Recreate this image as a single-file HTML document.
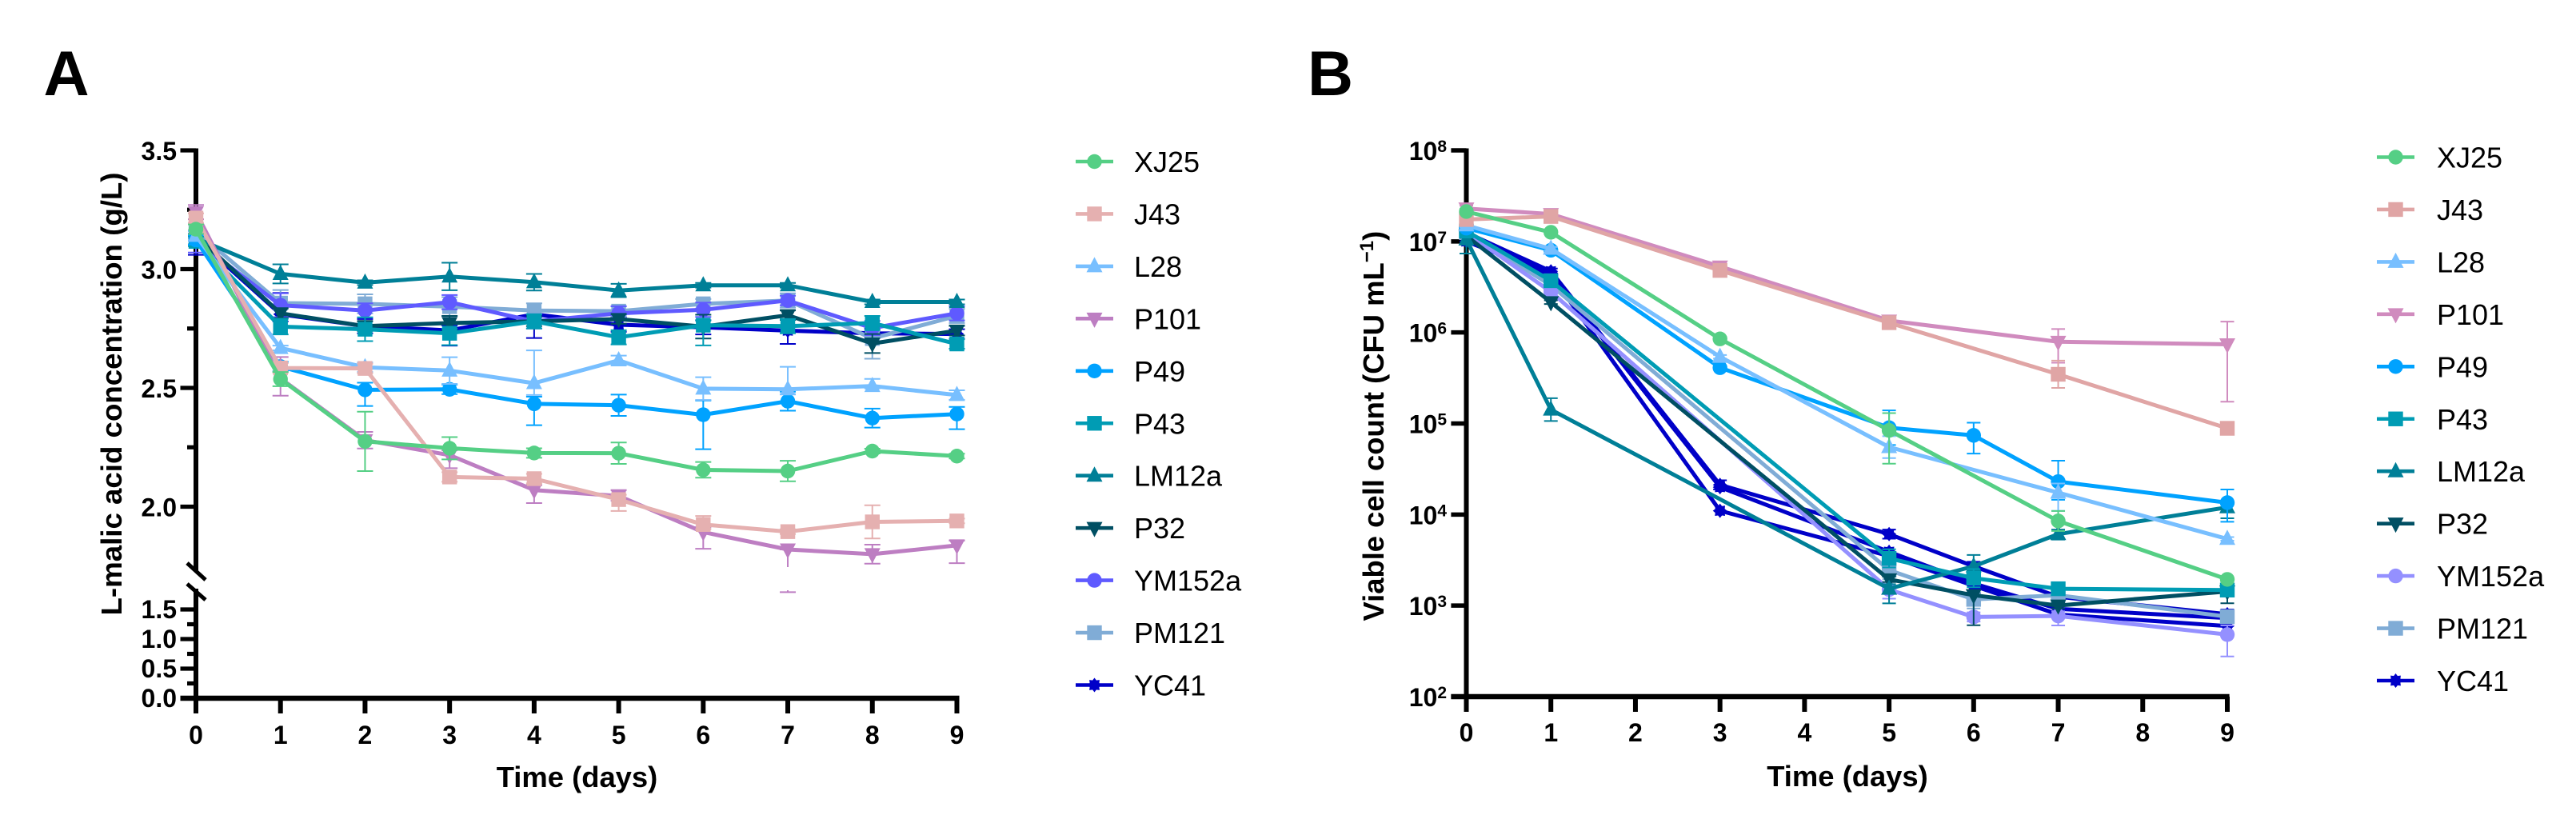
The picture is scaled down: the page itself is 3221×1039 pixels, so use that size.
<!DOCTYPE html>
<html lang="en">
<head>
<meta charset="utf-8">
<title>L-malic acid concentration and viable cell count</title>
<style>
html,body{margin:0;padding:0;background:#fff;width:3221px;height:1039px;overflow:hidden}
svg{display:block;font-family:"Liberation Sans",Arial,sans-serif}
.t{font-size:32px;font-weight:700;fill:#000}
.ttl{font-size:36.4px;font-weight:700;fill:#000}
.leg{font-size:36px;fill:#000}
.pl{font-size:79px;font-weight:700;fill:#000}
</style>
</head>
<body>
<svg id="figure" xmlns="http://www.w3.org/2000/svg" width="3221" height="1039" viewBox="0 0 3221 1039">
  <rect width="3221" height="1039" fill="#fff"/>
  <text class="pl" x="54.5" y="119">A</text>
  <text class="pl" x="1635" y="119">B</text>
  <text class="ttl" transform="translate(152,769.5) rotate(-90)" x="0" y="0" textLength="554" lengthAdjust="spacingAndGlyphs">L-malic acid concentration (g/L)</text>
  <text class="ttl" x="721.5" y="984" text-anchor="middle">Time (days)</text>
  <text class="ttl" transform="translate(1730,776.5) rotate(-90)" x="0" y="0">Viable cell count (CFU mL<tspan font-size="24" dy="-13">−1</tspan><tspan dy="13">)</tspan></text>
  <text class="ttl" x="2310" y="983" text-anchor="middle">Time (days)</text>
  <g id="plotA"></g>
  <g id="plotB"></g>
</svg>
<script>
// ---- categories ----
const seriesNames = ['XJ25','J43','L28','P101','P49','P43','LM12a','P32','YM152a','PM121','YC41'];
const daysA = [0,1,2,3,4,5,6,7,8,9];
const daysB = [0,1,3,5,6,7,9];
const xTicks = [0,1,2,3,4,5,6,7,8,9];

// ---- tick labels ----
const yMajorUpperA = [3.5,3.0,2.5,2.0];
const yMinorUpperA = [3.25,2.75,2.25];
const yMajorLowerA = [1.5,1.0,0.5,0.0];
const yMinorLowerA = [1.25,0.75,0.25];
const yExponentsB = [8,7,6,5,4,3,2];

// ---- Panel A values (g/L) ----
const xj25A   = [3.168,2.537,2.275,2.246,2.226,2.225,2.155,2.15,2.234,2.213];
const j43A    = [3.215,2.584,2.582,2.125,2.118,2.03,1.925,1.895,1.936,1.94];
const l28A    = [3.14,2.668,2.587,2.573,2.52,2.616,2.497,2.494,2.508,2.47];
const p101A   = [3.24,2.54,2.28,2.217,2.07,2.045,1.893,1.82,1.80,1.837];
const p49A    = [3.123,2.59,2.492,2.494,2.433,2.427,2.387,2.444,2.373,2.39];
const p43A    = [3.117,2.758,2.747,2.73,2.78,2.713,2.764,2.76,2.773,2.685];
const lm12aA  = [3.13,2.98,2.943,2.969,2.945,2.91,2.932,2.932,2.862,2.862];
const p32A    = [3.14,2.814,2.76,2.773,2.78,2.79,2.758,2.806,2.687,2.741];
const ym152aA = [3.12,2.848,2.826,2.861,2.78,2.814,2.829,2.868,2.752,2.814];
const pm121A  = [3.16,2.857,2.854,2.842,2.826,2.823,2.854,2.868,2.708,2.803];
const yc41A   = [3.13,2.81,2.76,2.742,2.81,2.766,2.755,2.741,2.73,2.727];

// ---- Panel A error bars (g/L above / below the mean) ----
const xj25AUp     = [.02,.03,.125,.047,.02,.045,.033,.043,.01,.01];
const xj25ADown   = [.02,.03,.125,.047,.02,.045,.033,.043,.01,.01];
const j43AUp      = [.02,.02,.02,.02,.02,.02,.036,.01,.07,.01];
const j43ADown    = [.02,.02,.02,.02,.02,.048,.02,.01,.07,.01];
const l28AUp      = [.02,.01,.02,.056,.138,.02,.048,.095,.03,.02];
const l28ADown    = [.02,.01,.02,.056,.05,.02,.048,.02,.01,.02];
const p101AUp     = [.03,.09,.035,.02,.02,.025,.02,0,.04,.02];
const p101ADown   = [.03,.073,.035,.055,.055,.02,.07,.18,.04,.075];
const p49AUp      = [.02,.02,.03,.02,.03,.045,.06,.04,.04,.03];
const p49ADown    = [.02,.02,.068,.02,.09,.045,.145,.04,.04,.064];
const p43AUp      = [.02,.033,.05,.02,.03,.03,.02,.03,.03,.02];
const p43ADown    = [.02,.033,.05,.05,.03,.03,.085,.03,.03,.02];
const lm12aAUp    = [.01,.04,.01,.058,.035,.028,.01,.01,.01,.01];
const lm12aADown  = [.01,.04,.01,.058,.035,.028,.01,.01,.01,.01];
const p32AUp      = [.02,.02,.02,.03,.02,.02,.05,.02,.04,.02];
const p32ADown    = [.02,.02,.02,.03,.02,.02,.05,.02,.04,.02];
const ym152aAUp   = [.03,.05,.03,.03,.03,.03,.03,.02,.03,.03];
const ym152aADown = [.05,.05,.03,.03,.03,.03,.03,.02,.03,.03];
const pm121AUp    = [.03,.055,.04,.04,.03,.02,.02,.03,.02,.03];
const pm121ADown  = [.03,.02,.04,.04,.03,.02,.02,.03,.085,.03];
const yc41AUp     = [.03,.09,.03,.02,.02,.03,.03,.02,.02,.02];
const yc41ADown   = [.07,.03,.03,.064,.1,.03,.03,.056,.02,.02];

// ---- Panel B values (CFU/mL); null = not measured on that day ----
const xj25B   = [2.13e7,1.26e7,8.5e5,8.4e4,null,8.5e3,1.94e3];
const j43B    = [1.74e7,1.88e7,4.8e6,1.28e6,null,3.47e5,8.85e4];
const l28B    = [1.5e7,8.3e6,5.4e5,5.5e4,null,1.74e4,5.4e3];
const p101B   = [2.3e7,2e7,5.3e6,1.35e6,null,7.9e5,7.4e5];
const p49B    = [1.4e7,8e6,4.1e5,9e4,7.4e4,2.3e4,1.35e4];
const p43B    = [1.3e7,3.7e6,null,3.3e3,2e3,1.53e3,1.48e3];
const lm12aB  = [1.05e7,1.42e5,null,1.53e3,2.7e3,6.1e3,1.2e4];
const p32B    = [1.15e7,2.15e6,null,1.94e3,1.3e3,1e3,1.43e3];
const ym152aB = [1.25e7,2.8e6,null,1.5e3,750,770,480];
const pm121B  = [1.25e7,3.3e6,null,2.45e3,1.17e3,1.3e3,755];
const yc41B   = [1.25e7,4.7e6,2.12e4,6.1e3,2.7e3,1.25e3,805];
const yc41ReplicateB = [1.1e7,4.5e6,2.0e4,3.9e3,1.75e3,920,730];
const yc41ReplicateC = [1.0e7,4.3e6,1.1e4,3.5e3,1.65e3,800,595];

// ---- Panel B error bars (decades above / below the mean) ----
const xj25BUp     = [.03,.02,.02,.19,0,.11,.02];
const xj25BDown   = [.03,.02,.02,.366,0,.11,.02];
const j43BUp      = [.02,.02,.03,.05,0,.15,.02];
const j43BDown    = [.02,.02,.03,.07,0,.15,.02];
const l28BUp      = [.02,.02,.02,.12,0,.1,.02];
const l28BDown    = [.02,.02,.02,.12,0,.2,.02];
const p101BUp     = [.03,.02,.03,.04,0,.14,.25];
const p101BDown   = [.03,.02,.03,.04,0,.23,.63];
const p49BUp      = [.02,.02,.02,.19,.14,.23,.145];
const p49BDown    = [.02,.02,.02,.19,.2,.2,.21];
const p43BUp      = [.02,.02,0,.1,.1,.05,.03];
const p43BDown    = [.02,.02,0,.1,.1,.05,.03];
const lm12aBUp    = [.05,.125,0,.05,.125,.05,.03];
const lm12aBDown  = [.155,.125,0,.16,.125,.06,.12];
const p32BUp      = [.02,.02,0,.03,.05,.03,.03];
const p32BDown    = [.02,.02,0,.03,.33,.03,.13];
const ym152aBUp   = [.02,.02,0,.05,.05,.05,.1];
const ym152aBDown = [.02,.02,0,.1,.05,.105,.24];
const pm121BUp    = [.02,.02,0,.1,.1,.05,.05];
const pm121BDown  = [.02,.02,0,.1,.1,.05,.05];
const yc41BUp     = [.02,.03,.05,.05,.05,.05,.05];
const yc41BDown   = [.02,.03,.05,.05,.05,.05,.05];
const noErrorB    = [0,0,0,0,0,0,0];

const C = {green:'#55CF85',roseA:'#E5B0B0',roseB:'#E0A5A5',sky:'#78BFFF',purpleA:'#BD7EC2',purpleB:'#D08BBE',blue:'#00A2FF',
  cyan:'#009CB4',teal:'#007F97',deep:'#004F63',violetA:'#5F5AFF',violetB:'#9490FF',steel:'#80ACD6',navy:'#0000C8'};

const seriesA = [
 {name:'XJ25',color:C.green,shape:'circle',v:xj25A,up:xj25AUp,dn:xj25ADown},
 {name:'J43',color:C.roseA,shape:'square',v:j43A,up:j43AUp,dn:j43ADown},
 {name:'L28',color:C.sky,shape:'up',v:l28A,up:l28AUp,dn:l28ADown},
 {name:'P101',color:C.purpleA,shape:'down',v:p101A,up:p101AUp,dn:p101ADown},
 {name:'P49',color:C.blue,shape:'circle',v:p49A,up:p49AUp,dn:p49ADown},
 {name:'P43',color:C.cyan,shape:'square',v:p43A,up:p43AUp,dn:p43ADown},
 {name:'LM12a',color:C.teal,shape:'up',v:lm12aA,up:lm12aAUp,dn:lm12aADown},
 {name:'P32',color:C.deep,shape:'down',v:p32A,up:p32AUp,dn:p32ADown},
 {name:'YM152a',color:C.violetA,shape:'circle',v:ym152aA,up:ym152aAUp,dn:ym152aADown},
 {name:'PM121',color:C.steel,shape:'square',v:pm121A,up:pm121AUp,dn:pm121ADown},
 {name:'YC41',color:C.navy,shape:'star',v:yc41A,up:yc41AUp,dn:yc41ADown}
];
const seriesB = [
 {name:'XJ25',color:C.green,shape:'circle',v:xj25B,up:xj25BUp,dn:xj25BDown},
 {name:'J43',color:C.roseB,shape:'square',v:j43B,up:j43BUp,dn:j43BDown},
 {name:'L28',color:C.sky,shape:'up',v:l28B,up:l28BUp,dn:l28BDown},
 {name:'P101',color:C.purpleB,shape:'down',v:p101B,up:p101BUp,dn:p101BDown},
 {name:'P49',color:C.blue,shape:'circle',v:p49B,up:p49BUp,dn:p49BDown},
 {name:'P43',color:C.cyan,shape:'square',v:p43B,up:p43BUp,dn:p43BDown},
 {name:'LM12a',color:C.teal,shape:'up',v:lm12aB,up:lm12aBUp,dn:lm12aBDown},
 {name:'P32',color:C.deep,shape:'down',v:p32B,up:p32BUp,dn:p32BDown},
 {name:'YM152a',color:C.violetB,shape:'circle',v:ym152aB,up:ym152aBUp,dn:ym152aBDown},
 {name:'PM121',color:C.steel,shape:'square',v:pm121B,up:pm121BUp,dn:pm121BDown},
 {name:'YC41',color:C.navy,shape:'star',v:yc41B,up:yc41BUp,dn:yc41BDown},
 {name:'',color:C.navy,shape:'star',v:yc41ReplicateB,up:noErrorB,dn:noErrorB},
 {name:'',color:C.navy,shape:'star',v:yc41ReplicateC,up:noErrorB,dn:noErrorB}
];

// ---- axis functions ----
const xA = d => 245 + d * 105.72;
const xB = d => 1833.5 + d * 105.72;
const yUpperA = v => 188 + (3.5 - v) * 297;
const yLowerA = v => 873 - v * 74;
const yB = v => 188 + (8 - Math.log10(v)) * 113.83;
const yBLog = l => 188 + (8 - l) * 113.83;

const NS = 'http://www.w3.org/2000/svg';
function mk(tag, attrs, parent){
  const el = document.createElementNS(NS, tag);
  for (const k in attrs) el.setAttribute(k, attrs[k]);
  parent.appendChild(el);
  return el;
}
function axisLine(parent, x1, y1, x2, y2, w){
  const l = mk('line', {x1, y1, x2, y2, stroke:'#000', 'stroke-width':w}, parent);
  
  
  return l;
}
function tick(parent, x1, y1, x2, y2, w){
  const l = mk('line', {x1, y1, x2, y2, stroke:'#000', 'stroke-width':w}, parent);
  
  
  return l;
}
function tickLabel(parent, x, y, anchor, str){
  const t = mk('text', {x, y, 'text-anchor':anchor, 'class':'t'}, parent);
  t.textContent = str;
  
  
  return t;
}
function marker(parent, shape, cx, cy, color){
  let m;
  if (shape === 'circle') {
    m = mk('circle', {cx, cy, r:9.2, fill:color}, parent);
  } else if (shape === 'square') {
    m = mk('rect', {x:cx-9.2, y:cy-9.2, width:18.4, height:18.4, fill:color}, parent);
  } else if (shape === 'up') {
    m = mk('polygon', {points:`${cx},${cy-11.5} ${cx+10},${cy+7.5} ${cx-10},${cy+7.5}`, fill:color}, parent);
  } else if (shape === 'down') {
    m = mk('polygon', {points:`${cx},${cy+11.5} ${cx+10},${cy-7.5} ${cx-10},${cy-7.5}`, fill:color}, parent);
  } else {
    const pts = [];
    for (let i = 0; i < 16; i++) {
      const r = i % 2 ? 6.4 : 9, a = i * Math.PI / 8;
      pts.push((cx + r * Math.sin(a)).toFixed(1) + ',' + (cy - r * Math.cos(a)).toFixed(1));
    }
    m = mk('polygon', {points:pts.join(' '), fill:color}, parent);
  }
  
  
  return m;
}
function drawSeries(parent, list, days, xf, yf, yUpF, yDnF, capHalf){
  // first-listed series sits on top, so paint in reverse
  for (let s = list.length - 1; s >= 0; s--) {
    const ser = list[s];
    const g = mk('g', {}, parent);
    
    
    const pts = [];
    days.forEach((d, i) => { if (ser.v[i] !== null) pts.push(xf(d).toFixed(1) + ',' + yf(ser.v[i]).toFixed(1)); });
    days.forEach((d, i) => {
      const val = ser.v[i];
      if (val === null || (ser.up[i] === 0 && ser.dn[i] === 0)) return;
      const x = xf(d), yt = yUpF(val, ser.up[i]), yb = yDnF(val, ser.dn[i]);
      const e = mk('path', {d:`M${x-capHalf} ${yt}H${x+capHalf}M${x} ${yt}V${yb}M${x-capHalf} ${yb}H${x+capHalf}`, fill:'none', stroke:ser.color, 'stroke-width':2}, g);
      
      
    });
    const line = mk('polyline', {points:pts.join(' '), fill:'none', stroke:ser.color, 'stroke-width':5, 'stroke-linejoin':'round'}, g);
    
    
    days.forEach((d, i) => {
      if (ser.v[i] !== null) marker(g, ser.shape, xf(d), yf(ser.v[i]), ser.color);
    });
  }
}
function drawLegend(parent, list, lineX1, lineX2, textX, y0, dy){
  list.filter(s => s.name).forEach((s, i) => {
    const y = y0 + i * dy;
    const g = mk('g', {}, parent);
    
    
    const l = mk('line', {x1:lineX1, x2:lineX2, y1:y, y2:y, stroke:s.color, 'stroke-width':4.6}, g);
    
    
    marker(g, s.shape, (lineX1 + lineX2) / 2, y, s.color);
    const t = mk('text', {x:textX, y:y + 13, 'class':'leg'}, g);
    t.textContent = s.name;
    
    
  });
}

// ---- Panel A ----
const A = document.getElementById('plotA');
axisLine(A, 245, 185.5, 245, 713, 6);
axisLine(A, 245, 736, 245, 892, 6);
axisLine(A, 225.5, 873, 1199.5, 873, 6.5);
yMajorUpperA.forEach(v => { tick(A, 225.5, yUpperA(v), 245, yUpperA(v), 5.2); tickLabel(A, 221, yUpperA(v) + 12, 'end', v.toFixed(1)); });
yMinorUpperA.forEach(v => tick(A, 234, yUpperA(v), 245, yUpperA(v), 5.2));
yMajorLowerA.forEach(v => { if (v > 0) tick(A, 225.5, yLowerA(v), 245, yLowerA(v), 5.2); tickLabel(A, 221, yLowerA(v) + 11, 'end', v.toFixed(1)); });
yMinorLowerA.forEach(v => tick(A, 234, yLowerA(v), 245, yLowerA(v), 5.2));
xTicks.forEach(d => { tick(A, xA(d), 873, xA(d), 892, 6); tickLabel(A, xA(d), 930, 'middle', String(d)); });
const slash1 = mk('line', {x1:234, y1:704, x2:257, y2:725, stroke:'#000', 'stroke-width':5}, A);


const slash2 = mk('line', {x1:234, y1:730, x2:257, y2:750, stroke:'#000', 'stroke-width':5}, A);


drawSeries(A, seriesA, daysA, xA, yUpperA, (v, e) => yUpperA(v + e), (v, e) => yUpperA(v - e), 10);
const gapMask = mk('rect', {x:270, y:709, width:930, height:29, fill:'#fff'}, A);


drawLegend(A, seriesA, 1345, 1392, 1418, 202, 65.45);

// ---- Panel B ----
const B = document.getElementById('plotB');
axisLine(B, 1833.5, 185.5, 1833.5, 890, 6);
axisLine(B, 1814.4, 871, 2787.6, 871, 6.5);
yExponentsB.forEach(k => {
  const y = yBLog(k);
  tick(B, 1814.4, y, 1833.5, y, 5.5);
  const t = tickLabel(B, 1809, y + 12, 'end', '10');
  const sup = mk('tspan', {'font-size':21, dy:-10}, t);
  sup.textContent = String(k);
  
  
});
xTicks.forEach(d => { tick(B, xB(d), 871, xB(d), 890, 6); tickLabel(B, xB(d), 927, 'middle', String(d)); });
drawSeries(B, seriesB, daysB, xB, yB, (v, e) => yB(v) - e * 113.83, (v, e) => yB(v) + e * 113.83, 8.5);
drawLegend(B, seriesB, 2972, 3019, 3047, 196.5, 65.45);
</script>
</body>
</html>
